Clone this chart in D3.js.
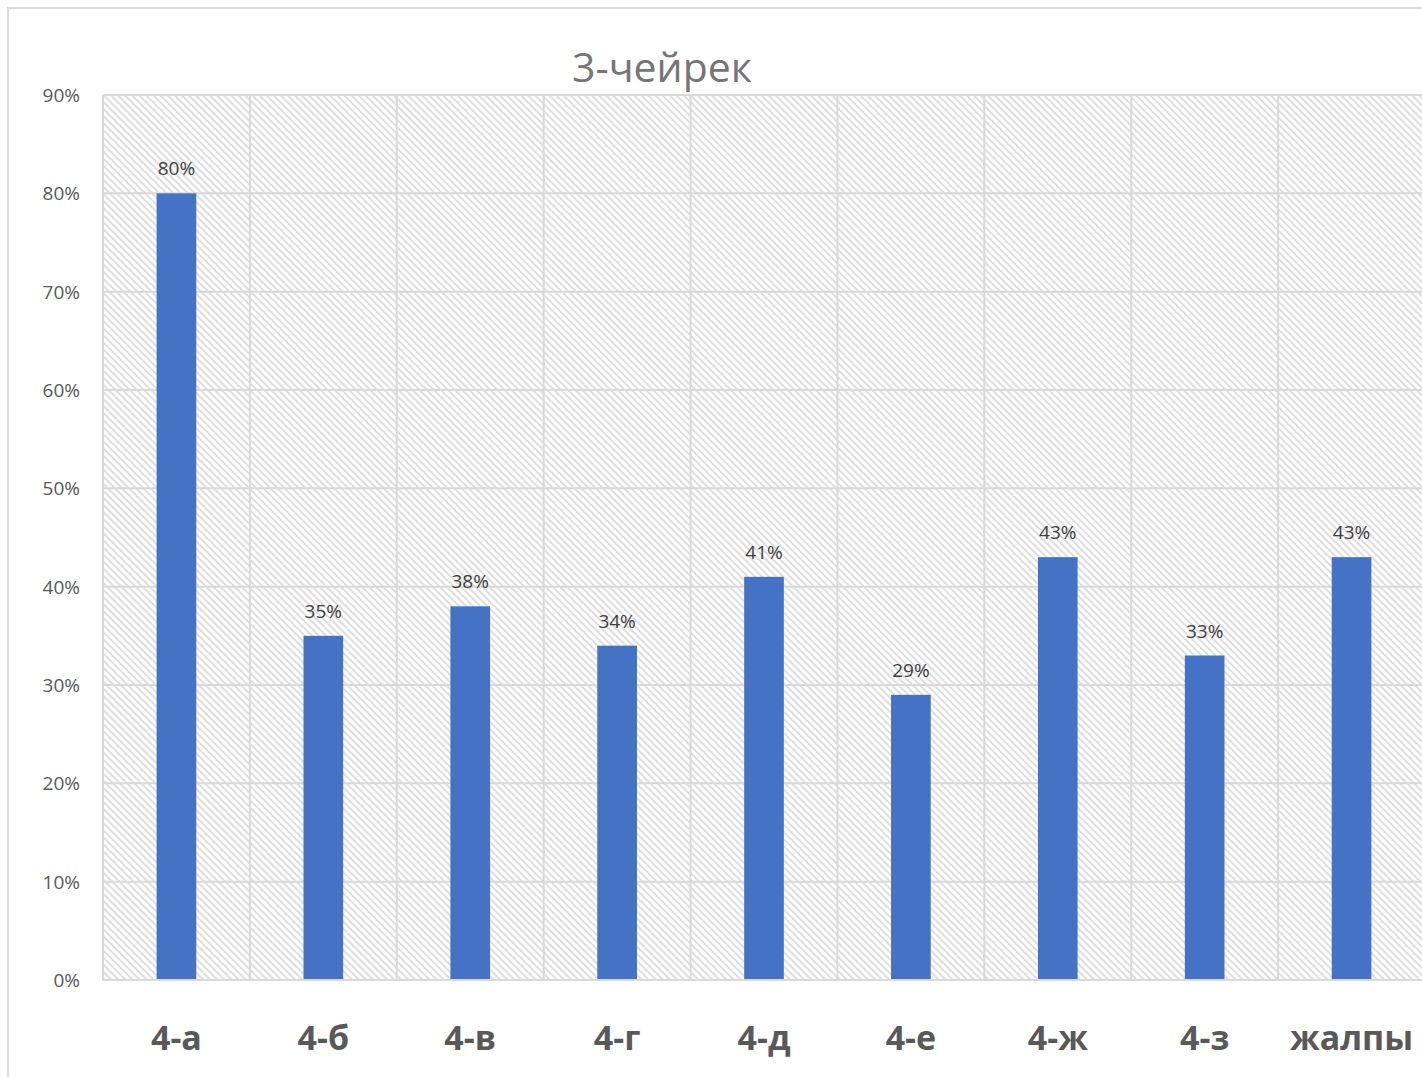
<!DOCTYPE html>
<html><head><meta charset="utf-8">
<script src="https://cdn.jsdelivr.net/npm/d3@7"></script>
<style>body{margin:0;background:#fff;}svg{display:block;}</style>
</head><body>
<svg id="c" width="1422" height="1077"></svg>
<script>
const categories = ["4-а","4-б","4-в","4-г","4-д","4-е","4-ж","4-з","жалпы"];
const values = [0.80,0.35,0.38,0.34,0.41,0.29,0.43,0.33,0.43];
const yTicks = [0,0.1,0.2,0.3,0.4,0.5,0.6,0.7,0.8,0.9];
const title = "3-чейрек";

const svg = d3.select("#c");
const font = "'Open Sans','Noto Sans',sans-serif";
const m = {left:103, top:95, right:1425, bottom:980};

const defs = svg.append("defs");
const pat = defs.append("pattern").attr("id","hatch").attr("patternUnits","userSpaceOnUse")
  .attr("width",5).attr("height",5).attr("patternTransform","rotate(-45)");
pat.append("rect").attr("width",5).attr("height",5).attr("fill","#fff");
pat.append("line").attr("x1",1).attr("y1",0).attr("x2",1).attr("y2",5)
  .attr("stroke","#dedede").attr("stroke-width",2);

// chart border
svg.append("rect").attr("x",8).attr("y",8).attr("width",1440).attr("height",1100)
  .attr("fill","#fff").attr("stroke","#d9d9d9").attr("stroke-width",2);

const x = d3.scaleBand().domain(categories).range([m.left,m.right]).paddingInner(0.73).paddingOuter(0.365);
const y = d3.scaleLinear().domain([0,0.9]).range([m.bottom,m.top]);

svg.append("rect").attr("x",m.left).attr("y",m.top).attr("width",m.right-m.left).attr("height",m.bottom-m.top)
  .attr("fill","url(#hatch)");

// horizontal gridlines
svg.append("g").selectAll("line").data(yTicks).join("line")
  .attr("x1",m.left).attr("x2",m.right).attr("y1",d=>y(d)).attr("y2",d=>y(d))
  .attr("stroke","#d9d9d9").attr("stroke-width",2);
// vertical gridlines
const step = x.step();
const vLines = d3.range(categories.length+1).map(i=>m.left+i*step);
svg.append("g").selectAll("line").data(vLines).join("line")
  .attr("x1",d=>d).attr("x2",d=>d).attr("y1",m.top).attr("y2",m.bottom)
  .attr("stroke","#d9d9d9").attr("stroke-width",2);

// y axis labels
const yAxis = d3.axisLeft(y).tickValues(yTicks).tickFormat(d3.format(".0%")).tickSize(0).tickPadding(0);
const ga = svg.append("g").attr("transform",`translate(80,0)`).call(yAxis);
ga.select(".domain").remove();
ga.selectAll("text").attr("font-family",font).attr("font-size",19).attr("fill","#595959").attr("dy","0.35em");

// bars
svg.append("g").selectAll("rect").data(values).join("rect")
  .attr("x",(d,i)=>x(categories[i])).attr("width",x.bandwidth())
  .attr("y",d=>y(d)).attr("height",d=>y(0)-y(d)).attr("fill","#4472c4");

// data labels
svg.append("g").selectAll("text").data(values).join("text")
  .attr("x",(d,i)=>x(categories[i])+x.bandwidth()/2).attr("y",d=>y(d)-18)
  .attr("text-anchor","middle").attr("font-family",font).attr("font-size",19).attr("fill","#404040")
  .text(d=>d3.format(".0%")(d));

// category labels
const xAxis = d3.axisBottom(x).tickSize(0).tickPadding(0);
const gx = svg.append("g").attr("transform",`translate(0,1038)`).call(xAxis);
gx.select(".domain").remove();
gx.selectAll("text").attr("font-family",font).attr("font-size",34).attr("font-weight","bold")
  .attr("fill","#595959").attr("dy","0.35em");

// bottom axis line
svg.append("line").attr("x1",m.left).attr("x2",m.right).attr("y1",m.bottom).attr("y2",m.bottom)
  .attr("stroke","#d9d9d9").attr("stroke-width",2);

svg.append("text").attr("x",662).attr("y",68).attr("dy","0.35em").attr("text-anchor","middle")
  .attr("font-family",font).attr("font-size",41).attr("fill","#757575").text(title);
</script>
</body></html>
